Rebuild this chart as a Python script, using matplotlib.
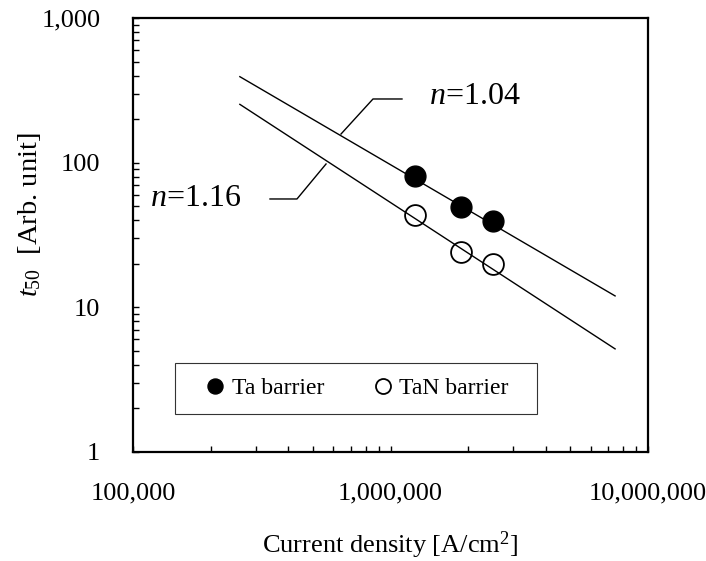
import numpy as np
import matplotlib
matplotlib.use("Agg")
import matplotlib.pyplot as plt
from matplotlib.ticker import FuncFormatter, LogLocator
from matplotlib.patches import Rectangle
from matplotlib.lines import Line2D

plt.rcParams['font.family'] = ['Liberation Serif', 'DejaVu Serif']
plt.rcParams['mathtext.fontset'] = 'custom'
plt.rcParams['mathtext.rm'] = 'Liberation Serif'
plt.rcParams['mathtext.it'] = 'Liberation Serif:italic'

# Measured lifetimes
current_density = [1.25e6, 1.875e6, 2.5e6]
t50_ta = [81, 49.6, 39.5]
t50_tan = [43.6, 24.3, 19.9]

# Power-law fits t50 = t_ref * (J / J_ref)^-n
fit_range = [2.6e5, 7.45e6]
n_ta = 1.04
n_tan = 1.16
t_ref_ta = 393.0
t_ref_tan = 253.0

series_labels = ['Ta barrier', 'TaN barrier']
x_ticks = [1e5, 1e6, 1e7]
y_ticks = [1, 10, 100, 1000]

fig = plt.figure(figsize=(7.06, 5.61), dpi=100)
ax = fig.add_axes([133 / 706, 1 - 452 / 561, 515 / 706, 434 / 561])

jf = np.array(fit_range)
ax.plot(jf, t_ref_ta * (jf / fit_range[0]) ** (-n_ta), color='black', lw=1.0, zorder=3)
ax.plot(jf, t_ref_tan * (jf / fit_range[0]) ** (-n_tan), color='black', lw=1.0, zorder=3)

ax.plot(current_density, t50_ta, 'o', ms=15, mfc='black', mec='black', mew=1.0,
        zorder=4, label=series_labels[0])
ax.plot(current_density, t50_tan, 'o', ms=15, mfc='none', mec='black', mew=1.3,
        zorder=4, label=series_labels[1])

ax.set_xscale('log')
ax.set_yscale('log')
ax.set_xlim(1e5, 1e7)
ax.set_ylim(1, 1000)

fmt = FuncFormatter(lambda v, p: '{:,.0f}'.format(v))
ax.set_xticks(x_ticks)
ax.set_yticks(y_ticks)
ax.xaxis.set_major_formatter(fmt)
ax.yaxis.set_major_formatter(fmt)
ax.xaxis.set_minor_locator(LogLocator(base=10, subs=np.arange(2, 10)))
ax.yaxis.set_minor_locator(LogLocator(base=10, subs=np.arange(2, 10)))
ax.xaxis.set_minor_formatter(plt.NullFormatter())
ax.yaxis.set_minor_formatter(plt.NullFormatter())

ax.tick_params(which='both', direction='in', length=4.3, width=1.0,
               top=False, right=False)
ax.tick_params(axis='y', which='major', pad=23.5, labelsize=19)
ax.tick_params(axis='x', which='major', pad=22, labelsize=19)

for s in ax.spines.values():
    s.set_linewidth(1.6)

ax.set_xlabel(r'Current density [A/cm$^2$]', fontsize=19, va='center')
ax.xaxis.set_label_coords(0.5, -0.214)
ax.set_ylabel(r'$t_{\mathrm{50}}$  [Arb. unit]', fontsize=20.5, va='center')
ax.yaxis.set_label_coords(-0.2, 0.546)

# Legend box and entries
ax.add_patch(Rectangle((0.0816, 0.0876), 0.703, 0.1175, transform=ax.transAxes,
                       fill=False, edgecolor='#333333', lw=0.8, zorder=5))
leg = ax.legend(loc='center', bbox_to_anchor=(0.433, 0.1463), ncol=2,
                frameon=False, fontsize=17, markerscale=0.72,
                handlelength=1.0, handletextpad=0.2, columnspacing=2.0,
                borderpad=0, borderaxespad=0)

# Leader lines for exponent labels
ax.add_line(Line2D([0.4039, 0.4660, 0.5223], [0.7327, 0.8134, 0.8134],
                   transform=ax.transAxes, color='black', lw=1.0))
ax.add_line(Line2D([0.266, 0.3184, 0.3748], [0.583, 0.583, 0.6636],
                   transform=ax.transAxes, color='black', lw=1.0))
ax.text(0.575, 0.818, r'$n$=' + f'{n_ta:.2f}', transform=ax.transAxes,
        fontsize=23, ha='left', va='center')
ax.text(0.033, 0.585, r'$n$=' + f'{n_tan:.2f}', transform=ax.transAxes,
        fontsize=23, ha='left', va='center')

fig.savefig('out.png', dpi=100)
